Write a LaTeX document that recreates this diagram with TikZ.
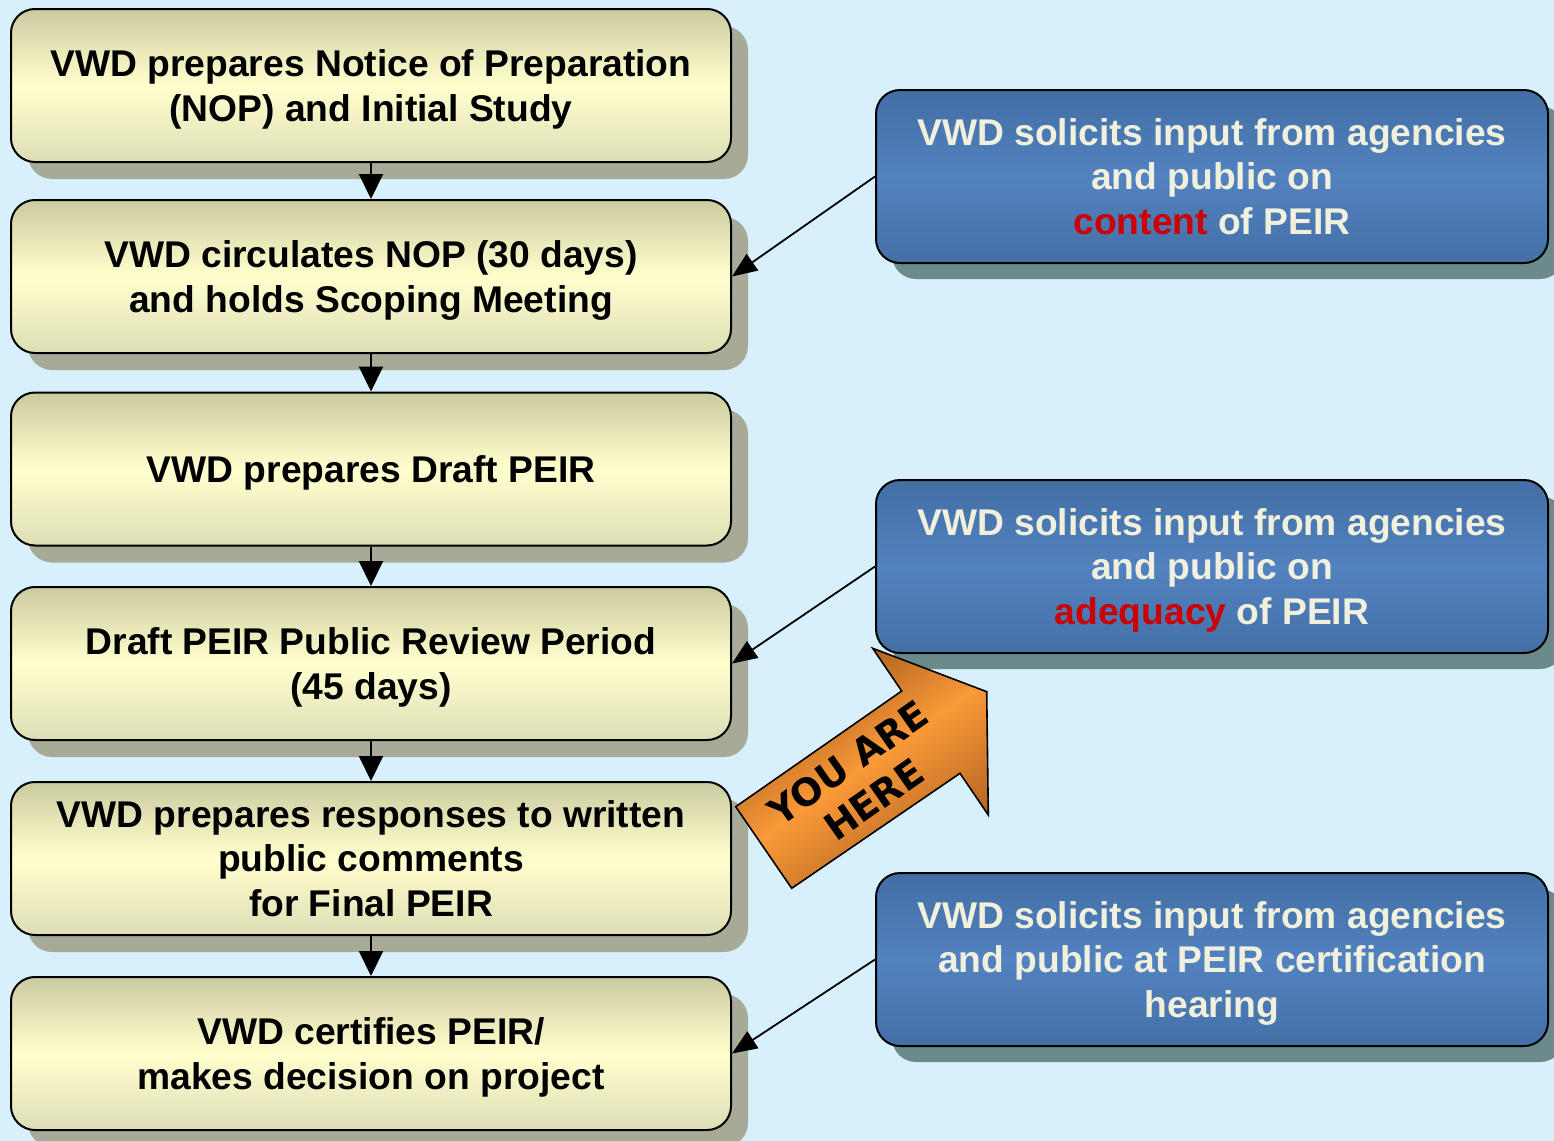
\documentclass[tikz,border=0pt]{standalone}
\usepackage{fontspec}
\setmainfont{Liberation Sans}
\newfontfamily\heavyfont{DejaVu Sans}
\usetikzlibrary{shadows,arrows.meta}
\definecolor{bg}{RGB}{216,240,252}
\definecolor{boxtop}{RGB}{203,203,160}
\definecolor{boxmid}{RGB}{255,255,206}
\definecolor{boxbot}{RGB}{222,222,182}
\definecolor{boxshadow}{RGB}{166,170,150}
\definecolor{bluetop}{RGB}{66,110,164}
\definecolor{bluemid}{RGB}{82,130,192}
\definecolor{bluebot}{RGB}{68,112,166}
\definecolor{blueshadow}{RGB}{106,138,140}
\definecolor{cream}{RGB}{240,240,220}
\definecolor{hotred}{RGB}{204,0,0}
\definecolor{orangemid}{RGB}{250,154,56}
\definecolor{orangedark}{RGB}{150,80,25}
\begin{document}
\begin{tikzpicture}[x=0.5pt,y=-0.5pt,
  stepbox/.style={draw=black, line width=1pt, rounded corners=12pt,
    minimum width=360pt, minimum height=76.5pt, inner sep=0pt, align=center,
    text depth=0pt,
    font=\bfseries\fontsize{18.6}{22.4}\selectfont,
    top color=boxtop, bottom color=boxbot, middle color=boxmid,
    general shadow={fill=boxshadow, shadow xshift=8.5pt, shadow yshift=-8.5pt}},
  inputbox/.style={draw=black, line width=1pt, rounded corners=12pt,
    minimum width=336pt, minimum height=86.5pt, inner sep=0pt, align=center,
    text depth=0pt,
    text=cream, font=\bfseries\fontsize{18.6}{22.4}\selectfont,
    top color=bluetop, bottom color=bluebot, middle color=bluemid,
    general shadow={fill=blueshadow, shadow xshift=8pt, shadow yshift=-8pt}},
  flow/.style={draw=black, line width=1pt, -{Triangle[length=12.5pt,width=12pt]}},
  feed/.style={draw=black, line width=0.9pt, -{Triangle[length=12.5pt,width=10pt]}},
  youarrow/.style={draw=black, line width=0.8pt, top color=orangedark, bottom color=orangedark!80!orangemid, middle color=orangemid, shading angle=35},
  yahtext/.style={rotate=35, align=center, font=\heavyfont\bfseries\fontsize{18.8}{22.5}\selectfont}
]
\fill[bg] (0,0) rectangle (1554,1141);
\useasboundingbox (0,0) rectangle (1554,1141);

\node[stepbox] (b1) at (371,85.5) {VWD prepares Notice of Preparation\\(NOP) and Initial Study};
\node[stepbox] (b2) at (371,276.5) {VWD circulates NOP (30 days)\\and holds Scoping Meeting};
\node[stepbox] (b3) at (371,469) {VWD prepares Draft PEIR};
\node[stepbox] (b4) at (371,663.5) {Draft PEIR Public Review Period\\(45 days)};
\node[stepbox] (b5) at (371,858.5) {VWD prepares responses to written\\public comments\\for Final PEIR};
\node[stepbox] (b6) at (371,1053.5) {VWD certifies PEIR/\\makes decision on project};

\node[inputbox] (c1) at (1212,176.5) {VWD solicits input from agencies\\and public on\\\textcolor{hotred}{content} of PEIR};
\node[inputbox] (c2) at (1212,566.5) {VWD solicits input from agencies\\and public on\\\textcolor{hotred}{adequacy} of PEIR};
\node[inputbox] (c3) at (1212,959.5) {VWD solicits input from agencies\\and public at PEIR certification\\hearing};

\draw[flow] (b1.south) -- (b2.north);
\draw[flow] (b2.south) -- (b3.north);
\draw[flow] (b3.south) -- (b4.north);
\draw[flow] (b4.south) -- (b5.north);
\draw[flow] (b5.south) -- (b6.north);

\draw[feed] (c1.west) -- (b2.east);
\draw[feed] (c2.west) -- (b4.east);
\draw[feed] (c3.west) -- (b6.east);

\path[youarrow] (735.7,806.7) -- (901.7,691) -- (872.7,648.3) -- (986.7,691.7)
  -- (988.3,815) -- (960,773.3) -- (791.7,888.3) -- cycle;
\node[yahtext] (yah) at (861,781) {YOU ARE\\HERE};
\end{tikzpicture}
\end{document}
